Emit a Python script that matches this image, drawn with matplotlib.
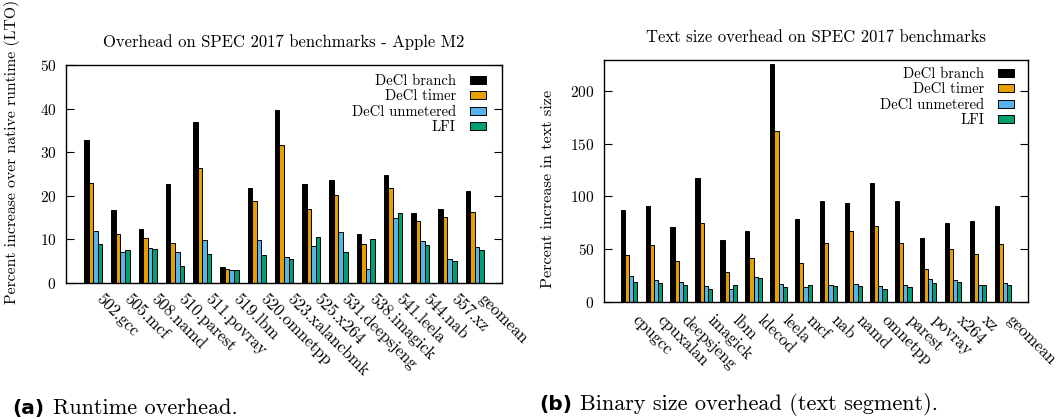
import numpy as np
import matplotlib
matplotlib.use("Agg")
import matplotlib.pyplot as plt
import matplotlib.transforms as mtransforms

plt.rcParams["font.family"] = ["cmr10", "DejaVu Serif"]
plt.rcParams["axes.formatter.use_mathtext"] = True
plt.rcParams["mathtext.fontset"] = "cm"

series = ["DeCl branch", "DeCl timer", "DeCl unmetered", "LFI"]
colors = ["#000000", "#E69F00", "#56B4E9", "#009E73"]

# runtime overhead, Apple M2 (percent over native LTO)
rt_benchmarks = ["502.gcc", "505.mcf", "508.namd", "510.parest", "511.povray",
                 "519.lbm", "520.omnetpp", "523.xalancbmk", "525.x264",
                 "531.deepsjeng", "538.imagick", "541.leela", "544.nab",
                 "557.xz", "geomean"]
rt_branch = [32.8, 16.7, 12.4, 22.7, 37.0, 3.5, 21.7, 39.7, 22.7, 23.7, 11.2, 24.7, 16.0, 17.0, 21.2]
rt_timer = [23.0, 11.2, 10.2, 9.1, 26.4, 3.2, 18.8, 31.8, 16.9, 20.1, 9.0, 21.8, 14.3, 15.1, 16.2]
rt_unmetered = [12.0, 7.0, 8.0, 7.1, 9.9, 3.0, 9.8, 5.9, 8.5, 11.7, 3.1, 15.0, 9.5, 5.4, 8.2]
rt_lfi = [9.0, 7.5, 7.7, 3.9, 6.5, 3.0, 6.4, 5.5, 10.5, 7.1, 10.1, 16.1, 8.6, 4.9, 7.6]

# text segment size overhead
sz_benchmarks = ["cpugcc", "cpuxalan", "deepsjeng", "imagick", "lbm", "ldecod",
                 "leela", "mcf", "nab", "namd", "omnetpp", "parest", "povray",
                 "x264", "xz", "geomean"]
sz_branch = [87.1, 90.9, 71.0, 117.9, 58.8, 67.0, 224.8, 78.3, 96.2, 94.3, 113.2, 95.3, 60.7, 75.2, 76.4, 90.9]
sz_timer = [44.6, 54.1, 39.0, 75.1, 28.3, 41.5, 162.3, 37.1, 56.3, 67.0, 71.7, 56.3, 31.8, 50.6, 45.3, 55.0]
sz_unmetered = [25.1, 20.8, 18.9, 15.7, 12.8, 23.9, 17.0, 14.8, 16.0, 17.0, 15.4, 16.7, 22.0, 20.8, 16.0, 18.2]
sz_lfi = [18.9, 18.5, 16.6, 12.3, 16.3, 22.6, 14.7, 16.0, 15.1, 15.7, 12.3, 14.2, 17.9, 18.9, 16.0, 16.4]

FS = 11


def histogram(ax, labels, data, ymax, yticks, title, legend_anchor, label_drop):
    x = np.arange(len(labels))
    w = 1.0 / 6.0
    for i, (vals, c, name) in enumerate(zip(data, colors, series)):
        ax.bar(x + (i - 1.5) * w, vals, w, color=c, edgecolor="black",
               linewidth=0.7, label=name)
    ax.set_xlim(-1, len(labels))
    ax.set_ylim(0, ymax)
    ax.set_yticks(yticks)
    ax.set_xticks([])
    # slanted benchmark names hanging below each group
    off = mtransforms.ScaledTranslation(8 / 72, -label_drop / 72, ax.figure.dpi_scale_trans)
    trans = ax.get_xaxis_transform() + off
    for xi, name in zip(x, labels):
        ax.text(xi, 0, name, transform=trans, rotation=-45, ha="left",
                va="top", rotation_mode="anchor", fontsize=12)
    ax.tick_params(axis="y", direction="in", length=6, width=0.8,
                   right=True, labelsize=FS, pad=7)
    for s in ax.spines.values():
        s.set_linewidth(1.0)
    ax.set_title(title, fontsize=12, pad=13)
    ax.legend(loc="upper right", bbox_to_anchor=legend_anchor, frameon=False,
              markerfirst=False, fontsize=10.5, handlelength=1.1,
              handleheight=0.45, labelspacing=0.12, handletextpad=0.95,
              borderpad=0, borderaxespad=0)


fig = plt.figure(figsize=(10.57, 4.19), dpi=100)

ax1 = fig.add_axes([0.0624, 0.3253, 0.4125, 0.5184])
histogram(ax1, rt_benchmarks, [rt_branch, rt_timer, rt_unmetered, rt_lfi],
          50, [0, 10, 20, 30, 40, 50],
          "Overhead on SPEC 2017 benchmarks - Apple M2", (0.963, 0.96), 6)

ax2 = fig.add_axes([0.5714, 0.2785, 0.4011, 0.5783])
histogram(ax2, sz_benchmarks, [sz_branch, sz_timer, sz_unmetered, sz_lfi],
          229, [0, 50, 100, 150, 200],
          "Text size overhead on SPEC 2017 benchmarks", (0.967, 0.97), 7)

fig.text(12 / 1057, 1 - 152 / 419, "Percent increase over native runtime (LTO)",
         rotation=90, ha="center", va="center", fontsize=11.3)
fig.text(548 / 1057, 1 - 189 / 419, "Percent increase in text size",
         rotation=90, ha="center", va="center", fontsize=11.7)

# sub-figure captions
fig.text(12 / 1057, 1 - 408 / 419, "(a)", family="DejaVu Sans",
         weight="bold", fontsize=14.5, va="center")
fig.text(53 / 1057, 1 - 408 / 419, "Runtime overhead.", fontsize=16, va="center")
fig.text(539 / 1057, 1 - 404 / 419, "(b)", family="DejaVu Sans",
         weight="bold", fontsize=14.5, va="center")
fig.text(580 / 1057, 1 - 404 / 419, "Binary size overhead (text segment).",
         fontsize=16, va="center")

fig.savefig("out.png", dpi=100)
